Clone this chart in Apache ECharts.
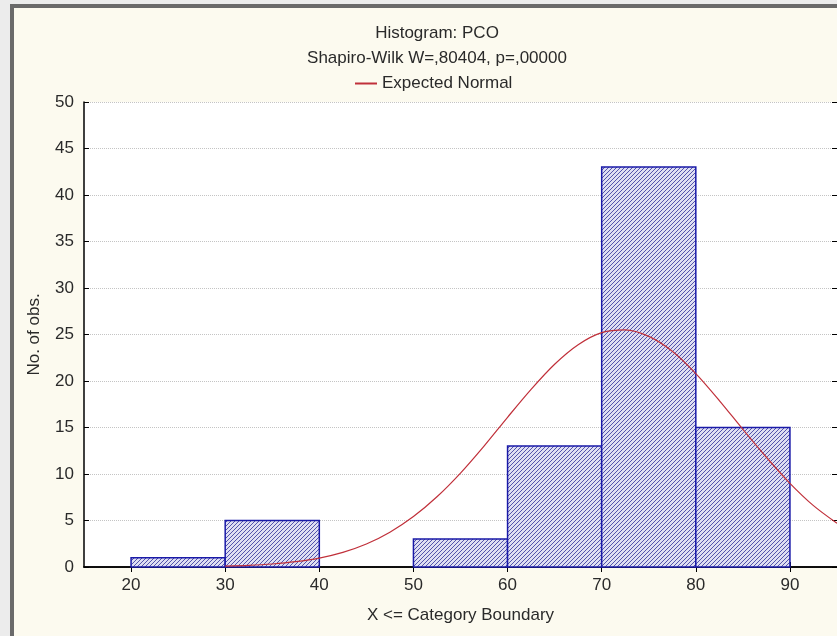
<!DOCTYPE html>
<html><head><meta charset="utf-8">
<script src="https://cdn.jsdelivr.net/npm/echarts@6/dist/echarts.min.js"></script>
<style>html,body{margin:0;padding:0;background:#ececec}#c{width:837px;height:636px}</style>
</head><body><div id="c"></div>
<script>
const binStart = [20, 30, 40, 50, 60, 70, 80];
const binEnd = [30, 40, 50, 60, 70, 80, 90];
const counts = [1, 5, 0, 3, 13, 43, 15];
const xTicks = [20, 30, 40, 50, 60, 70, 80, 90];
const curveX = [30, 32.5, 35, 37.5, 40, 42.5, 45, 47.5, 50, 52.5, 55, 57.5, 60, 62.5, 65, 67.5, 70, 72.5, 75, 77.5, 80, 82.5, 85, 87.5, 90, 92.5, 95];
const curveY = [0.09, 0.17, 0.32, 0.57, 0.96, 1.57, 2.47, 3.74, 5.42, 7.55, 10.1, 13.0, 16.1, 19.1, 21.8, 23.9, 25.2, 25.5, 24.8, 23.2, 20.8, 17.9, 14.8, 11.8, 9.0, 6.6, 4.7];

const FONT = '"Liberation Sans", Arial, sans-serif';
const pc = document.createElement('canvas');
pc.width = 4; pc.height = 4;
const g = pc.getContext('2d');
g.fillStyle = '#dedef2'; g.fillRect(0, 0, 4, 4);
g.strokeStyle = '#303098'; g.lineWidth = 0.8;
g.beginPath();
g.moveTo(0, 4); g.lineTo(4, 0);
g.moveTo(-1, 1); g.lineTo(1, -1);
g.moveTo(3, 5); g.lineTo(5, 3);
g.stroke();
const hatch = { image: pc, repeat: 'repeat' };

const chart = echarts.init(document.getElementById('c'), null, { renderer: 'canvas' });
const txt = { fontFamily: FONT, fontSize: 17, color: '#2a2a2a', fontWeight: 'normal' };
chart.setOption({
  animation: false,
  textStyle: { fontFamily: FONT },
  graphic: [{
    type: 'rect', z: -100, silent: true,
    shape: { x: 12, y: 6, width: 900, height: 700 },
    style: { fill: '#fcfaef', stroke: '#6a6a6a', lineWidth: 4 }
  }],
  title: [
    { text: 'Histogram: PCO', left: 432, top: 20, textAlign: 'center', textStyle: txt },
    { text: 'Shapiro-Wilk W=,80404, p=,00000', left: 432, top: 45, textAlign: 'center', textStyle: txt }
  ],
  legend: {
    left: 350, top: 70, itemWidth: 22, itemHeight: 2, icon: 'rect',
    textStyle: txt, data: ['Expected Normal']
  },
  grid: { left: 84, right: 0, top: 102, bottom: 69, show: true, backgroundColor: '#ffffff', borderWidth: 0 },
  xAxis: [{
    type: 'value', min: 15, max: 95, position: 'bottom',
    name: 'X <= Category Boundary', nameLocation: 'middle', nameGap: 40,
    nameTextStyle: txt,
    axisLine: { show: true, lineStyle: { color: '#000', width: 1.5 } },
    axisTick: { show: true, inside: true, length: 5, customValues: xTicks, lineStyle: { color: '#000' } },
    axisLabel: { customValues: xTicks, fontSize: 17, color: '#2a2a2a', margin: 10, fontFamily: FONT },
    splitLine: { show: false }
  }, {
    type: 'value', min: 15, max: 95, position: 'top',
    axisLine: { show: true, lineStyle: { color: '#000', width: 1.5 } },
    axisTick: { show: true, inside: true, length: 5, customValues: xTicks, lineStyle: { color: '#000' } },
    axisLabel: { show: false }, splitLine: { show: false }
  }],
  yAxis: [{
    type: 'value', min: 0, max: 50, interval: 5, position: 'left',
    name: 'No. of obs.', nameLocation: 'middle', nameGap: 41, nameTextStyle: txt,
    axisLine: { show: true, lineStyle: { color: '#000', width: 1.5 } },
    axisTick: { show: true, inside: true, length: 5, lineStyle: { color: '#000' } },
    axisLabel: { fontSize: 17, color: '#2a2a2a', margin: 10, fontFamily: FONT },
    splitLine: { show: true, lineStyle: { color: '#c4c4c4', type: 'dotted', width: 1 } }
  }, {
    type: 'value', min: 0, max: 50, interval: 5, position: 'right',
    axisLine: { show: true, lineStyle: { color: '#000', width: 1 } },
    axisTick: { show: true, inside: true, length: 5, lineStyle: { color: '#000' } },
    axisLabel: { show: false }, splitLine: { show: false }
  }],
  series: [{
    type: 'custom', name: 'Histogram', xAxisIndex: 0, yAxisIndex: 0, z: 2,
    data: binStart.map((s, i) => [s, binEnd[i], counts[i]]),
    encode: { x: [0, 1], y: 2 },
    renderItem: function (params, api) {
      const v = api.value(2);
      if (!v) return null;
      const p0 = api.coord([api.value(0), v]);
      const p1 = api.coord([api.value(1), 0]);
      return {
        type: 'rect',
        shape: { x: p0[0], y: p0[1], width: p1[0] - p0[0], height: p1[1] - p0[1] },
        style: { fill: hatch, stroke: '#1a1aa8', lineWidth: 1.5 }
      };
    }
  }, {
    type: 'line', name: 'Expected Normal', xAxisIndex: 0, yAxisIndex: 0, z: 3,
    data: curveX.map((x, i) => [x, curveY[i]]),
    smooth: 0.3, showSymbol: false, symbol: 'none',
    itemStyle: { color: '#c0303a' },
    lineStyle: { color: '#c0303a', width: 1.2 }
  }]
});
</script></body></html>
